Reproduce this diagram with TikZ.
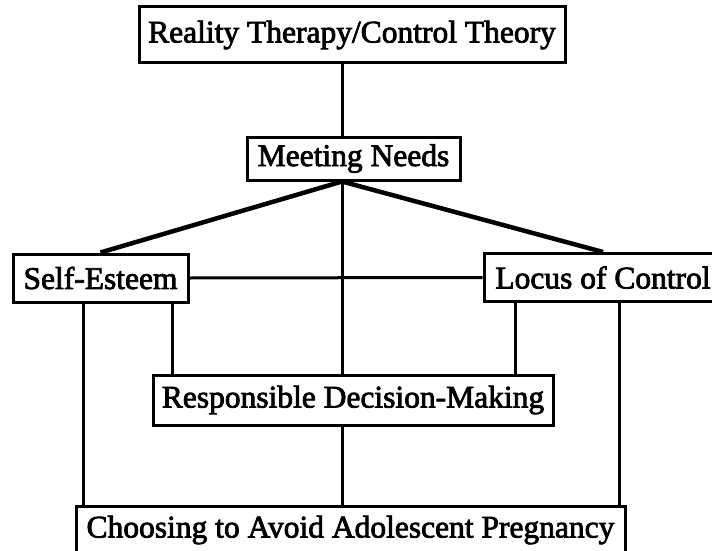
\documentclass[tikz,border=0pt]{standalone}
\usepackage{fontspec}
\newfontfamily\scanfont{Liberation Serif}[FakeBold=2.5]
\usepackage{tikz}
\usetikzlibrary{positioning}

\begin{document}
\begin{tikzpicture}[
  x={(1pt,0)}, y={(0,-1pt)},
  every node/.style={font=\scanfont\fontsize{31.5}{36}\selectfont},
  concept/.style={draw,line width=3pt,inner sep=0pt,minimum height=48,align=center},
  link/.style={draw,line width=3pt},
  spoke/.style={draw,line width=4.5pt}]

\useasboundingbox (0,0) rectangle (712,551);
\clip (0,0) rectangle (712,551);

\node[concept,minimum width=426,minimum height=56] (theory) at (352,35) {Reality Therapy/Control Theory};
\node[concept,minimum width=213,minimum height=43] (needs) at (353.5,158.5) {Meeting Needs};
\node[concept,minimum width=175] (esteem) at (100.5,278) {Self-Esteem};
\node[concept,minimum width=238] (locus) at (603,277.5) {Locus of Control};
\node[concept,minimum width=400,minimum height=50] (decide) at (353,400) {Responsible Decision-Making};
\node[concept,minimum width=549] (avoid) at (350.5,530) {Choosing to Avoid Adolescent Pregnancy};

\coordinate (trunk) at (342,0);
\coordinate (dropA) at (83,0);
\coordinate (dropB) at (172,0);
\coordinate (dropC) at (515,0);
\coordinate (dropD) at (619,0);

\draw[link] (theory.south -| trunk) -- (needs.north -| trunk);
\draw[link] (needs.south -| trunk) -- (decide.north -| trunk);
\draw[link] (decide.south -| trunk) -- (avoid.north -| trunk);
\draw[spoke] (needs.south -| trunk) -- (esteem.north);
\draw[spoke] (needs.south -| trunk) -- (locus.north);
\draw[link] (esteem.east) -- (locus.west);
\draw[link] (esteem.south -| dropA) -- (avoid.north -| dropA);
\draw[link] (esteem.south -| dropB) -- (decide.north -| dropB);
\draw[link] (locus.south -| dropC) -- (decide.north -| dropC);
\draw[link] (locus.south -| dropD) -- (avoid.north -| dropD);
\end{tikzpicture}
\end{document}
